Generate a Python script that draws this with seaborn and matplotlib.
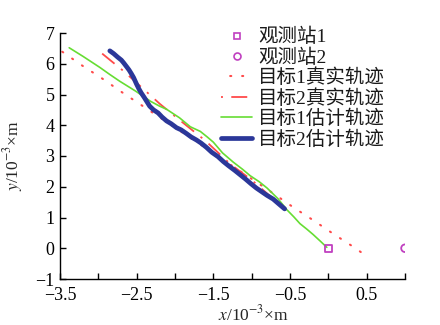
import matplotlib
matplotlib.use("Agg")
import matplotlib.pyplot as plt
from matplotlib.lines import Line2D
import seaborn as sns
import pandas as pd

# ---- data (units: 10^-3 m) ----
station1_x = [0.0]
station1_y = [0.0]
station2_x = [1.0]
station2_y = [0.0]

true1_x = [-3.47, -3.21, -2.95, -2.69, -2.43, -1.60, -0.71, -0.45, -0.19, 0.07, 0.33, 0.45]
true1_y = [6.39, 5.94, 5.52, 5.07, 4.64, 3.26, 1.77, 1.32, 0.90, 0.46, 0.04, -0.17]

true2_x = [-2.95, -2.67, -2.20, -1.92, -1.60, -1.28, -1.00, -0.57]
true2_y = [6.33, 5.76, 4.70, 4.13, 3.49, 2.74, 2.22, 1.28]

est1_x = [-3.38, -3.20, -2.98, -2.85, -2.72, -2.52, -2.40, -2.32, -2.20, -2.11, -1.94,
          -1.80, -1.67, -1.58, -1.50, -1.38, -1.24, -1.12, -1.02, -0.90, -0.80, -0.66,
          -0.54, -0.45, -0.37, -0.28, -0.20, -0.10, -0.02]
est1_y = [6.52, 6.24, 5.88, 5.65, 5.43, 5.12, 4.92, 4.78, 4.62, 4.52, 4.24,
          3.95, 3.80, 3.62, 3.45, 3.10, 2.80, 2.57, 2.36, 2.16, 1.96, 1.62,
          1.25, 1.02, 0.80, 0.62, 0.45, 0.22, 0.03]

est2_x = [-2.85, -2.80, -2.75, -2.70, -2.67, -2.63, -2.60, -2.57, -2.54, -2.50, -2.47,
          -2.44, -2.40, -2.36, -2.33, -2.28, -2.22, -2.17, -2.11, -2.05, -1.98, -1.92,
          -1.85, -1.79, -1.72, -1.66, -1.59, -1.52, -1.44, -1.37, -1.30, -1.22, -1.15,
          -1.08, -1.01, -0.94, -0.87, -0.80, -0.72, -0.65, -0.57]
est2_y = [6.42, 6.33, 6.22, 6.12, 6.03, 5.90, 5.80, 5.68, 5.55, 5.33, 5.18,
          5.05, 4.90, 4.74, 4.62, 4.50, 4.40, 4.27, 4.14, 4.05, 3.92, 3.85,
          3.73, 3.62, 3.52, 3.42, 3.28, 3.12, 2.98, 2.82, 2.68, 2.53, 2.39,
          2.25, 2.10, 1.96, 1.84, 1.72, 1.60, 1.45, 1.28]

labels = ["观测站1", "观测站2", "目标1真实轨迹", "目标2真实轨迹", "目标1估计轨迹", "目标2估计轨迹"]
x_ticks = [-3.5, -3.0, -2.5, -2.0, -1.5, -1.0, -0.5, 0.0, 0.5, 1.0]
x_ticklabels = ["−3.5", "", "−2.5", "", "−1.5", "", "−0.5", "", "0.5", ""]
y_ticks = [-1, 0, 1, 2, 3, 4, 5, 6, 7]

# ---- style ----
sns.set_theme(style="ticks")
plt.rcParams["font.family"] = ["Liberation Serif", "Noto Sans CJK SC"]
plt.rcParams["mathtext.fontset"] = "stix"
plt.rcParams["lines.scale_dashes"] = False
plt.rcParams["axes.unicode_minus"] = True

RED = "#ff4a4a"
MAG = "#c040c0"
GREEN = "#66dd33"
BLUE = "#2b3799"

fig = plt.figure(figsize=(4.4, 3.25), dpi=100)
ax = fig.add_axes([60 / 440, 46 / 325, 345 / 440, 246 / 325])

df_t1 = pd.DataFrame({"x": true1_x, "y": true1_y})
df_t2 = pd.DataFrame({"x": true2_x, "y": true2_y})
df_e1 = pd.DataFrame({"x": est1_x, "y": est1_y})
df_e2 = pd.DataFrame({"x": est2_x, "y": est2_y})

dot_style = (0, (0.8, 7.8))
dashdot_style = (0, (11.5, 6.0, 1.6, 6.0))

sns.lineplot(data=df_t1, x="x", y="y", sort=False, estimator=None, ax=ax,
             color=RED, lw=1.5, linestyle=dot_style, dash_capstyle="round")
sns.lineplot(data=df_t2, x="x", y="y", sort=False, estimator=None, ax=ax,
             color=RED, lw=1.3, linestyle=dashdot_style)
sns.lineplot(data=df_e1, x="x", y="y", sort=False, estimator=None, ax=ax,
             color=GREEN, lw=1.2)
sns.lineplot(data=df_e2, x="x", y="y", sort=False, estimator=None, ax=ax,
             color=BLUE, lw=3.4)
sns.scatterplot(x=station1_x, y=station1_y, ax=ax, marker="s", s=28,
                facecolor="none", edgecolor=MAG, linewidth=1.3, zorder=5)
sns.scatterplot(x=station2_x, y=station2_y, ax=ax, marker="o", s=30,
                facecolor="none", edgecolor=MAG, linewidth=1.3, zorder=5)

ax.set_xlim(-3.5, 1.0)
ax.set_ylim(-1, 7)
ax.set_xticks(x_ticks)
ax.set_xticklabels(x_ticklabels)
ax.set_yticks(y_ticks)
ax.tick_params(direction="in", length=4, width=1, labelsize=13, colors="black")
ax.tick_params(axis="x", pad=6)
ax.tick_params(axis="y", pad=4)
for s in ["top", "right"]:
    ax.spines[s].set_visible(False)
for s in ["left", "bottom"]:
    ax.spines[s].set_color("black")
    ax.spines[s].set_linewidth(1.0)

ax.set_xlabel(r"$\mathit{x}$/10$^{-3}$×m", fontsize=12.5)
ax.set_ylabel(r"$\mathit{y}$/10$^{-3}$×m", fontsize=12.5)
ax.xaxis.set_label_coords(0.56, -0.105)
ax.yaxis.set_label_coords(-0.1, 0.5)

handles = [
    Line2D([], [], ls="none", marker="s", ms=4.5, mfc="none", mec=MAG, mew=1.2),
    Line2D([], [], ls="none", marker="o", ms=5, mfc="none", mec=MAG, mew=1.2),
    Line2D([], [], color=RED, lw=1.5, ls=(2, (0.8, 7.8)), dash_capstyle="round"),
    Line2D([], [], color=RED, lw=1.3, ls=(0, (1.4, 6.0, 11.5, 6.0))),
    Line2D([], [], color=GREEN, lw=1.2),
    Line2D([], [], color=BLUE, lw=3.4),
]
leg = fig.legend(handles, labels, loc="upper left", bbox_to_anchor=(221 / 440, 1 - 28 / 325),
                 frameon=False, fontsize=14, handlelength=1.6, handletextpad=0.3,
                 labelspacing=0.1, borderpad=0, borderaxespad=0)
for t in leg.get_texts():
    t.set_color("#1a1a1a")

fig.savefig("out.png", dpi=100)
